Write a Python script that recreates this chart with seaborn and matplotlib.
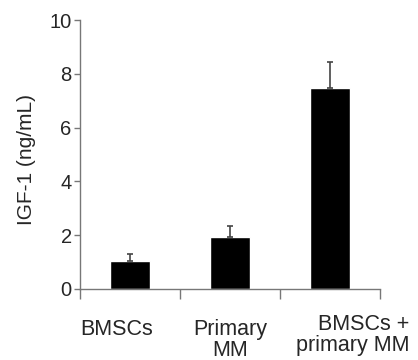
import matplotlib
matplotlib.use("Agg")
import matplotlib.pyplot as plt
import pandas as pd
import seaborn as sns

# data
groups = ["BMSCs", "Primary MM", "BMSCs + primary MM"]
labels = ["BMSCs", "Primary\nMM", "BMSCs +\nprimary MM"]
igf1 = [1.05, 1.92, 7.48]
sem = [0.25, 0.43, 0.97]

df = pd.DataFrame({"group": groups, "igf1": igf1})

sns.set_style("white")
plt.rcParams["font.family"] = ["Liberation Sans", "DejaVu Sans"]

fig = plt.figure(figsize=(4.18, 3.60), dpi=100)
ax = fig.add_axes([80 / 418, 71 / 360, 300 / 418, 269 / 360])

sns.barplot(data=df, x="group", y="igf1", color="black", width=0.4,
            saturation=1, errorbar=None, ax=ax)
ax.errorbar(range(len(igf1)), igf1, yerr=[[0] * len(sem), sem], fmt="none",
            ecolor="#444444", elinewidth=1.2, capsize=2.5, capthick=1.2)

ax.set_xlim(-0.5, 2.5)
ax.set_ylim(0, 10)
ax.set_yticks([0, 2, 4, 6, 8, 10])
ax.tick_params(axis="y", labelsize=14.5, length=4, width=1, color="#777777",
               direction="out", left=True, pad=2)

# boundary ticks on x, category labels placed as text
ax.set_xticks([-0.5, 0.5, 1.5, 2.5])
ax.set_xticklabels([])
ax.tick_params(axis="x", length=7, width=1, color="#777777",
               direction="out", bottom=True)
trans = ax.get_xaxis_transform()
ax.text(-0.13, -0.171, labels[0], transform=trans, ha="center", va="baseline",
        fontsize=15.5)
ax.text(1.0, -0.25, labels[1], transform=trans, ha="center", va="baseline",
        fontsize=15.5, linespacing=1.0)
ax.text(2.23, -0.232, labels[2], transform=trans, ha="center", va="baseline",
        fontsize=15.5, linespacing=1.05, multialignment="right")

ax.set_xlabel("")
ax.set_ylabel("IGF-1 (ng/mL)", fontsize=15)
ax.yaxis.set_label_coords(-0.145, 0.48)

sns.despine(ax=ax)
for s in ["left", "bottom"]:
    ax.spines[s].set_color("#777777")
    ax.spines[s].set_linewidth(1)

fig.savefig("out.png", dpi=100)
